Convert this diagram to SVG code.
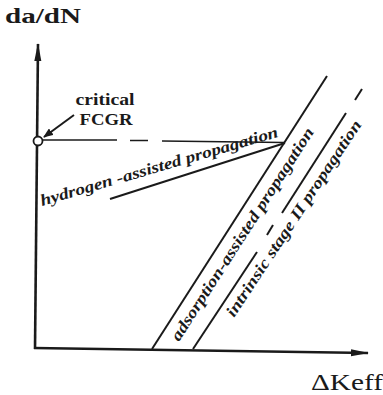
<svg xmlns="http://www.w3.org/2000/svg" width="383" height="395" viewBox="0 0 383 395">
<style>
.ax{stroke:#1a1a1a;stroke-width:2.6;fill:none}
.ln{stroke:#1a1a1a;stroke-width:2;fill:none}
.thin{stroke:#1a1a1a;stroke-width:1.5;fill:none}
.lbl{font-family:"Liberation Serif",serif;font-weight:bold;fill:#1a1a1a}
.it{font-family:"Liberation Serif",serif;font-style:italic;font-weight:bold;font-size:16px;fill:#1a1a1a}
</style>
<defs>
<marker id="ah" markerWidth="10" markerHeight="8" refX="9" refY="4" orient="auto" markerUnits="userSpaceOnUse">
<path d="M0,0 L10,4 L0,8 Z" fill="#1a1a1a"/>
</marker>
<marker id="ahb" markerWidth="18" markerHeight="8" refX="17" refY="4" orient="auto" markerUnits="userSpaceOnUse">
<path d="M0,0.5 L18,4 L0,7.5 Z" fill="#1a1a1a"/>
</marker>
</defs>
<rect width="383" height="395" fill="#ffffff"/>
<g id="axes">
<line class="ax" x1="35" y1="349" x2="38" y2="44" marker-end="url(#ahb)"/>
<line class="ax" x1="34" y1="348" x2="368" y2="353" marker-end="url(#ahb)"/>
<text class="lbl" x="5" y="23" font-size="22" textLength="76" lengthAdjust="spacingAndGlyphs">da/dN</text>
<text x="311" y="390" font-family="Liberation Serif,serif" font-size="24" fill="#1a1a1a" textLength="72" lengthAdjust="spacingAndGlyphs">ΔKeff</text>
</g>
<g id="connectors">
<line class="thin" x1="42" y1="140" x2="117" y2="140"/>
<line class="thin" x1="130" y1="140.5" x2="148" y2="140.5"/>
<line class="thin" x1="162" y1="141" x2="284" y2="142.5"/>
<line class="ln" x1="110" y1="199" x2="285" y2="143"/>
<line class="ln" x1="327" y1="76" x2="152" y2="349"/>
<line class="ln" x1="362" y1="89" x2="355" y2="100"/>
<line class="ln" x1="346" y1="113" x2="282" y2="213"/>
<line class="ln" x1="273" y1="225" x2="267" y2="235"/>
<line class="ln" x1="257" y1="252" x2="193" y2="349"/>
<line class="ln" x1="74" y1="115" x2="44" y2="137" marker-end="url(#ah)"/>
</g>
<g id="critical">
<circle cx="38" cy="141" r="4.5" fill="#ffffff" stroke="#1a1a1a" stroke-width="1.8"/>
<text class="lbl" x="105" y="105" font-size="16" text-anchor="middle" textLength="59" lengthAdjust="spacingAndGlyphs">critical</text>
<text class="lbl" x="106" y="125" font-size="16" text-anchor="middle" textLength="53" lengthAdjust="spacingAndGlyphs">FCGR</text>
</g>
<g id="hydrogen">
<text class="it" transform="translate(42,206) rotate(-16.3)" textLength="247" lengthAdjust="spacingAndGlyphs">hydrogen -assisted propagation</text>
</g>
<g id="adsorption">
<text class="it" transform="translate(179,342) rotate(-57.2)" textLength="250" lengthAdjust="spacingAndGlyphs">adsorption-assisted propagation</text>
</g>
<g id="intrinsic">
<text class="it" transform="translate(234,318) rotate(-56.5)" textLength="232" lengthAdjust="spacingAndGlyphs">intrinsic stage II propagation</text>
</g>
</svg>
